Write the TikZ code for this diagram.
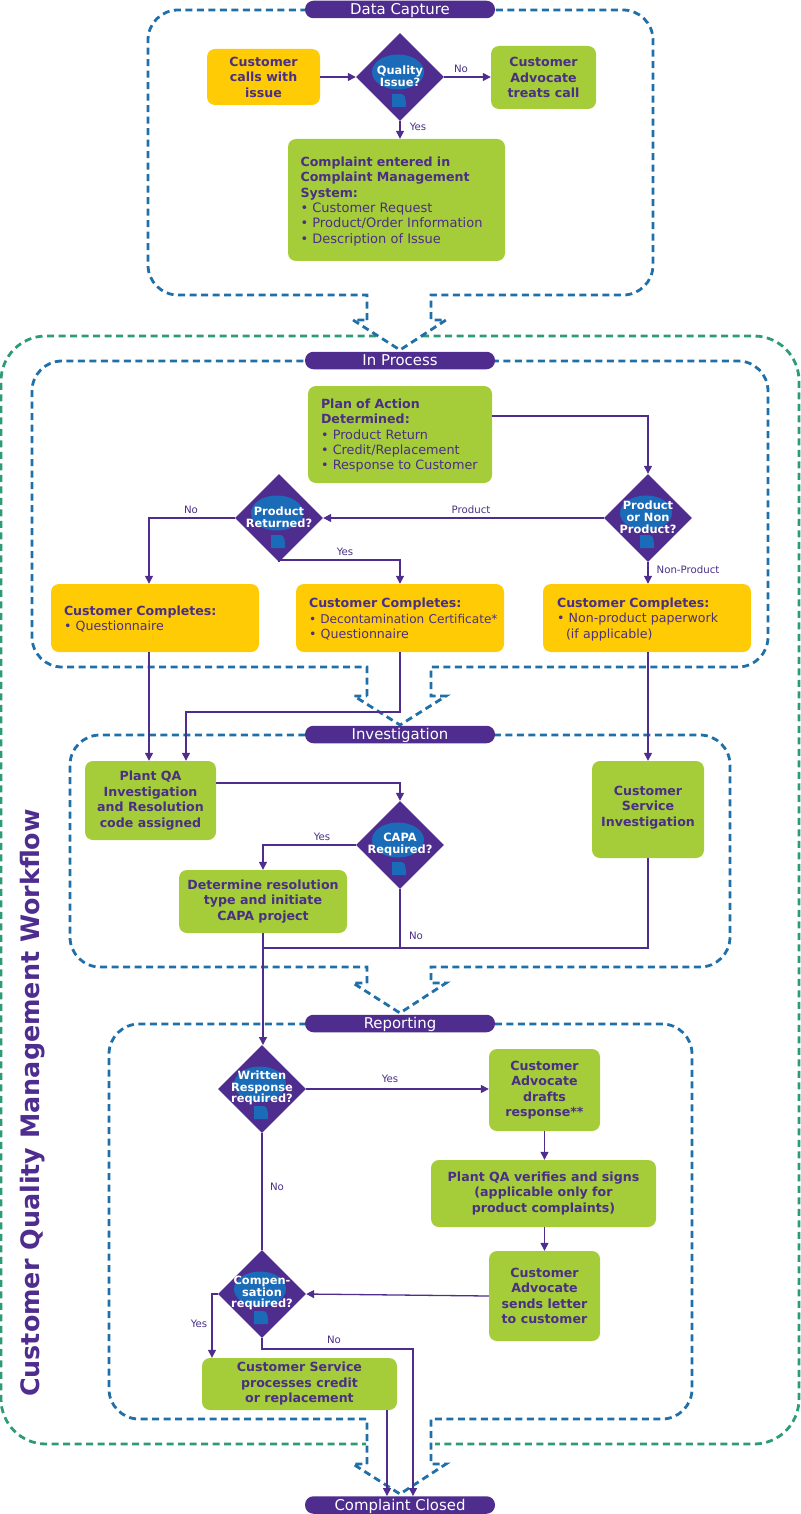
\documentclass[tikz,border=0pt]{standalone}
\usepackage{fontspec}
\setmainfont{DejaVu Sans}
\usetikzlibrary{shapes.geometric,arrows.meta}
\definecolor{purp}{HTML}{4F2D8F}
\definecolor{inkp}{HTML}{4A2F86}
\definecolor{leaf}{HTML}{A5CD39}
\definecolor{amber}{HTML}{FFCB05}
\definecolor{frameblue}{HTML}{1F6FA8}
\definecolor{framegreen}{HTML}{2E9B77}
\definecolor{spot}{HTML}{1B6CB8}
\tikzset{
  x=1pt,y=-1pt,
  boxbase/.style={rounded corners=8pt,inner sep=0pt,text=inkp,align=center,font=\fontsize{12.6}{15.5}\selectfont\bfseries},
  gbox/.style={boxbase,fill=leaf,execute at begin node={\rule{0pt}{14pt}}},
  obox/.style={boxbase,fill=amber,execute at begin node={\rule{0pt}{14pt}}},
  gleft/.style={boxbase,fill=leaf,align=left,execute at begin node={\rule{0pt}{12pt}}},
  oleft/.style={boxbase,fill=amber,align=left,execute at begin node={\rule{0pt}{12pt}}},
  pill/.style={fill=purp,rounded corners=8.5pt,minimum width=190pt,minimum height=17.5pt,inner sep=0pt,text=white,font=\fontsize{14.9}{17}\selectfont,text height=13.5pt,text depth=3pt},
  dia/.style={diamond,fill=purp,inner sep=0pt,minimum width=88pt,minimum height=88pt},
  dialabel/.style={text=white,align=center,inner sep=0pt,font=\fontsize{11.4}{11.6}\selectfont\bfseries},
  link/.style={draw=purp,line width=1.3pt},
  arrow/.style={link,-{Triangle[length=8pt,width=8pt]}},
  tag/.style={text=inkp,inner sep=0pt,font=\fontsize{10.2}{11}\selectfont},
  fblue/.style={draw=frameblue,line width=2.8pt,dash pattern=on 7pt off 4.5pt},
  fgreen/.style={draw=framegreen,line width=2.8pt,dash pattern=on 7pt off 4.5pt},
}
\newcommand{\decision}[5]{% name, x, y, label, ellipse dy
  \node[dia] (#1) at (#2,#3) {};
  \fill[spot] (#2-2,#3+#5) ellipse [x radius=26pt,y radius=17.5pt];
  \fill[spot] (#2-8,#3+17) -- (#2+1,#3+17) .. controls (#2+5,#3+17) and (#2+6,#3+21) .. (#2+6,#3+30) -- (#2-8,#3+30) -- cycle;
  \node[dialabel] (#1L) at (#2,#3-0.8) {#4};
}
\begin{document}
\begin{tikzpicture}
\useasboundingbox (0,0) rectangle (800,1514);
% frames
\draw[fgreen] (376,336) [rounded corners=45pt] -- (1,336) -- (1,1444) [sharp corners] -- (366,1444);
\draw[fgreen] (422,336) [rounded corners=45pt] -- (799,336) -- (799,1444) [sharp corners] -- (435,1444);
\draw[fblue] (367,320) -- (367,295) [rounded corners=30pt] -- (148,295) -- (148,10) -- (653,10) -- (653,295) [sharp corners] -- (431,295) -- (431,320) -- (446,320) -- (400,350) -- (353,320) -- (367,320);
\draw[fblue] (367,696) -- (367,667) [rounded corners=30pt] -- (32,667) -- (32,361) -- (768,361) -- (768,667) [sharp corners] -- (431,667) -- (431,696) -- (446,696) -- (400,725) -- (354,696) -- (367,696);
\draw[fblue] (367,983) -- (367,967) [rounded corners=30pt] -- (70,967) -- (70,735) -- (730,735) -- (730,967) [sharp corners] -- (431,967) -- (431,983) -- (446,983) -- (400,1013) -- (353,983) -- (367,983);
\draw[fblue] (367,1464) -- (367,1419) [rounded corners=30pt] -- (109,1419) -- (109,1024) -- (692,1024) -- (692,1419) [sharp corners] -- (431,1419) -- (431,1464) -- (446,1464) -- (400,1494) -- (353,1464) -- (367,1464);
% phase bars
\node[pill] (pData) at (400,9.5) {Data Capture};
\node[pill] (pProc) at (400,360.5) {In Process};
\node[pill] (pInv) at (400,734.5) {Investigation};
\node[pill] (pRep) at (400,1023.5) {Reporting};
\node[pill] (pEnd) at (400,1505) {Complaint Closed};
% title
\node[rotate=90,text=purp,inner sep=0pt,font=\fontsize{25.4}{30}\selectfont\bfseries] (title) at (33,1103) {Customer Quality Management Workflow};
% boxes
\node[obox,minimum width=113pt,minimum height=56pt] (calls) at (263.5,77) {Customer\\calls with\\issue};
\node[gbox,minimum width=105pt,minimum height=63pt] (treats) at (543.5,77.5) {Customer\\Advocate\\treats call};
\node[gleft,minimum width=217pt,minimum height=122pt,text width=192pt] (entered) at (396.5,200) {Complaint entered in\\Complaint Management\\System:\\{\mdseries\fontsize{13}{15.3}\selectfont • Customer Request\\• Product/Order Information\\• Description of Issue}};
\node[gleft,minimum width=184pt,minimum height=97pt,text width=158pt] (plan) at (400,434.5) {Plan of Action\\Determined:\\{\mdseries\fontsize{12.8}{15.3}\selectfont • Product Return\\• Credit/Replacement\\• Response to Customer}};
\node[oleft,minimum width=208pt,minimum height=68pt,text width=182pt] (oQ) at (155,618) {Customer Completes:\\{\mdseries • Questionnaire}};
\node[oleft,minimum width=208pt,minimum height=68pt,text width=182pt] (oD) at (400,618) {Customer Completes:\\{\mdseries {\fontsize{12.1}{15.5}\selectfont \mbox{• Decontamination Certificate*}}\\• Questionnaire}};
\node[oleft,minimum width=208pt,minimum height=68pt,text width=180pt] (oN) at (647,618) {Customer Completes:\\{\mdseries • Non-product paperwork\\\hspace*{9pt}(if applicable)}};
\node[gbox,minimum width=131pt,minimum height=79pt] (qa) at (150.5,800.5) {Plant QA\\Investigation\\and Resolution\\code assigned};
\node[gbox,minimum width=112pt,minimum height=97pt] (csi) at (648,809.5) {Customer\\Service\\Investigation\\[-9pt]};
\node[gbox,minimum width=168pt,minimum height=63pt] (det) at (263,901.5) {Determine resolution\\type and initiate\\CAPA project};
\node[gbox,minimum width=111pt,minimum height=82pt] (draft) at (544.5,1090) {Customer\\Advocate\\drafts\\response**};
\node[gbox,minimum width=225pt,minimum height=67pt] (verify) at (543.5,1193.5) {Plant QA verifies and signs\\(applicable only for\\product complaints)};
\node[gbox,minimum width=111pt,minimum height=90pt] (send) at (544.5,1296) {Customer\\Advocate\\sends letter\\to customer};
\node[gbox,minimum width=195pt,minimum height=52pt] (proc) at (299.5,1384) {Customer Service\\processes credit\\or replacement};
% decisions
\decision{dQ}{400}{77}{Quality\\Issue?}{-5}
\decision{dR}{279}{518}{Product\\Returned?}{-5}
\decision{dP}{648}{518}{Product\\or Non\\Product?}{-5}
\decision{dC}{400}{845}{CAPA\\Required?}{-5}
\decision{dW}{262}{1089}{Written\\Response\\required?}{-5}
\decision{dK}{262}{1294}{Compen-\\sation\\required?}{-5}
% connectors
\draw[arrow] (calls.east) -- (dQ.west);
\draw[arrow] (dQ.east) -- (treats.west |- dQ.east);
\draw[arrow] (dQ.south) -- (entered.north -| dQ.south);
\draw[arrow] (plan.east |- 0,416) -- (648,416) -- (dP.north);
\draw[arrow] (dP.west) -- (dR.east);
\draw[arrow] (dR.west) -- (149,518) -- (oQ.north -| 149,0);
\draw[arrow] (dR.south) -- (279,560) -- (400,560) -- (oD.north);
\draw[arrow] (dP.south) -- (oN.north -| dP.south);
\draw[arrow] (oQ.south -| 149,0) -- (qa.north -| 149,0);
\draw[arrow] (oD.south) -- (400,712) -- (186,712) -- (qa.north -| 186,0);
\draw[arrow] (oN.south -| csi.north) -- (csi.north);
\draw[arrow] (qa.east |- 0,783) -- (400,783) -- (dC.north);
\draw[arrow] (dC.west) -- (263,845) -- (det.north);
\draw[link] (dC.south) -- (400,948) -- (263,948);
\draw[link] (csi.south) -- (648,948) -- (400,948);
\draw[arrow] (det.south) -- (263,1045);
\draw[arrow] (dW.east) -- (draft.west |- dW.east);
\draw[arrow] (draft.south) -- (verify.north -| draft.south);
\draw[arrow] (verify.south -| send.north) -- (send.north);
\draw[arrow] (send.west) -- (dK.east);
\draw[link] (dW.south) -- (dK.north);
\draw[arrow] (dK.west) -- (212,1294) -- (proc.north -| 212,0);
\draw[arrow] (dK.south) -- (262,1349) -- (413,1349) -- (pEnd.north -| 413,0);
\draw[arrow] (proc.south -| 387,0) -- (pEnd.north -| 387,0);
% labels
\node[tag] (t1) at (461,69) {No};
\node[tag] (t2) at (418,127) {Yes};
\node[tag] (t3) at (471,510) {Product};
\node[tag] (t4) at (191,510) {No};
\node[tag] (t5) at (345,552) {Yes};
\node[tag] (t6) at (688,570) {Non-Product};
\node[tag] (t7) at (322,837) {Yes};
\node[tag] (t8) at (416,936) {No};
\node[tag] (t9) at (390,1079) {Yes};
\node[tag] (t10) at (277,1187) {No};
\node[tag] (t11) at (199,1324) {Yes};
\node[tag] (t12) at (334,1340) {No};
\end{tikzpicture}
\end{document}
